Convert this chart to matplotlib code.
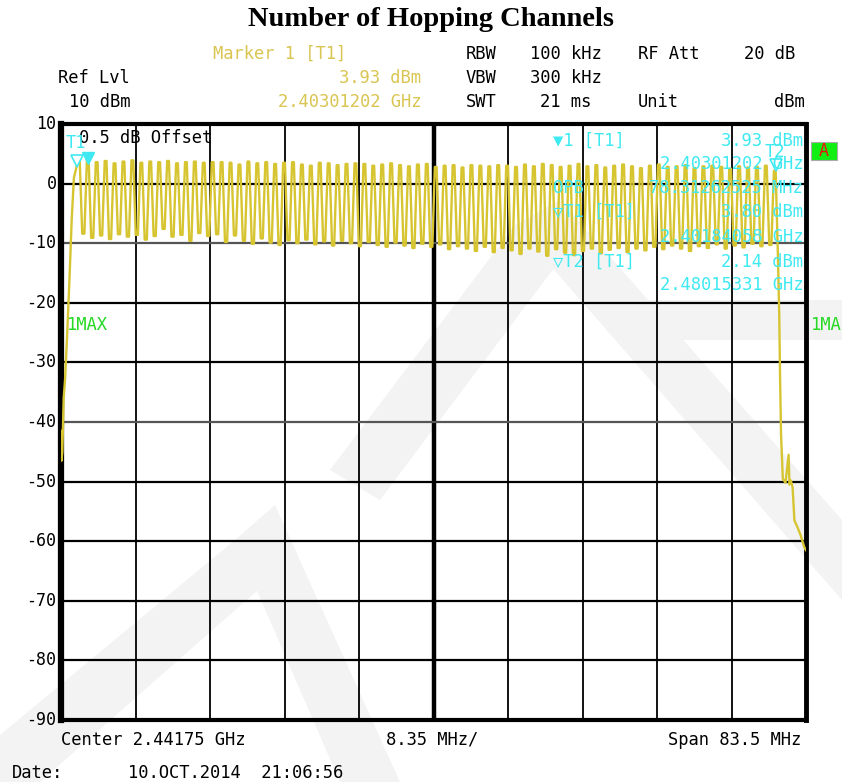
import numpy as np
import matplotlib
matplotlib.use('Agg')
import matplotlib.pyplot as plt
import matplotlib.transforms as mtransforms
from matplotlib.patches import Polygon, Rectangle

#####
# measurement data (frequency in MHz, level in dBm)
#####
chan_freq = list(range(2402, 2481))   # 79 hopping channels

peak_dbm = [3.80, 3.93, 3.6, 3.8, 3.4, 3.7, 3.9, 3.5, 3.7, 3.6, 3.8, 3.4, 3.6, 3.7, 3.5, 3.6,
            3.6, 3.5, 3.2, 3.7, 3.4, 3.6, 3.3, 3.5, 3.6, 3.2, 3.0, 3.5, 3.4, 3.1, 3.3, 3.4,
            3.3, 3.0, 3.2, 3.4, 3.1, 2.9, 3.2, 3.3, 2.8, 3.0, 3.1, 2.7, 3.1, 3.0, 2.9, 3.1,
            3.0, 2.8, 3.2, 2.9, 3.3, 3.1, 2.8, 3.0, 3.3, 2.9, 3.1, 2.7, 3.0, 3.2, 2.9, 2.6,
            3.0, 3.2, 2.8, 2.9, 3.1, 2.6, 2.9, 3.0, 2.8, 2.5, 2.9, 2.7, 2.8, 3.0, 2.14]

dip_dbm = [-8.4, -9.1, -8.7, -9.3, -8.5, -8.9, -8.6, -9.4, -8.8, -7.6, -8.9, -8.6, -9.6, -8.3, -8.8, -8.5,
           -9.8, -8.7, -9.6, -10.1, -9.2, -9.9, -10.3, -9.5, -10.0, -9.4, -10.2, -9.7, -10.4, -9.6, -10.0, -10.5,
           -9.8, -10.3, -10.6, -9.9, -10.4, -10.8, -10.1, -10.6, -10.2, -11.0, -10.5, -10.9, -11.3, -10.6, -11.5, -10.8,
           -11.2, -11.8, -10.9, -11.4, -12.1, -11.0, -11.6, -12.0, -11.3, -10.9, -11.7, -11.1, -10.8, -11.5, -10.9, -11.2,
           -10.6, -11.0, -10.4, -10.9, -11.3, -10.5, -10.8, -10.2, -10.9, -10.4, -10.7, -10.1, -10.5, -10.3]

# band edges outside the hopping range
lo_edge_freq = [2400.0, 2400.05, 2400.15, 2400.3, 2400.45, 2400.7, 2400.95, 2401.2, 2401.45]
lo_edge_dbm = [-41.5, -46.5, -45.0, -36.0, -33.0, -25.0, -16.0, -6.0, 1.0]
hi_edge_freq = [2480.35, 2480.5, 2480.6, 2480.7, 2480.9, 2481.2, 2481.4, 2481.55, 2481.65,
                2481.8, 2482.0, 2482.2, 2482.5, 2482.9, 2483.3, 2483.5]
hi_edge_dbm = [-12.0, -22.0, -33.0, -42.0, -49.5, -50.2, -47.5, -45.5, -50.5,
               -49.8, -51.0, -56.5, -57.5, -59.0, -61.0, -61.5]

# markers
t1 = (2401.84058, 3.80)
m1 = (2403.01202, 3.93)
t2 = (2480.15331, 2.14)

W, H = 842, 782
TRACE = '#d6c431'
CYAN = '#3fe9f2'
GOLD = '#d9c552'
MONO = 'DejaVu Sans Mono'


def px(x, y):
	return x / W, 1 - y / H


def build_trace():
	f = list(lo_edge_freq)
	v = list(lo_edge_dbm)
	for i, c in enumerate(chan_freq):
		if i > 0:
			f += [c - 0.62, c - 0.38]
			v += [dip_dbm[i - 1], dip_dbm[i - 1]]
		f += [c - 0.1, c + 0.1]
		v += [peak_dbm[i], peak_dbm[i]]
	f += hi_edge_freq
	v += hi_edge_dbm
	return f, v


fig = plt.figure(figsize=(W / 100, H / 100), dpi=100)

# faint watermark strokes in the background
wm = '#f3f3f3'
for pts in [[(0, 735), (235, 540), (275, 575), (40, 782), (0, 782)],
            [(235, 540), (275, 505), (400, 782), (340, 782)],
            [(330, 470), (515, 225), (560, 260), (380, 500)],
            [(515, 225), (560, 200), (842, 520), (842, 600)],
            [(640, 300), (842, 300), (842, 340), (680, 340)]]:
	fig.patches.append(Polygon([px(*p) for p in pts], closed=True, transform=fig.transFigure,
							   facecolor=wm, edgecolor='none', zorder=-5))

ax = fig.add_axes([61 / W, 62 / H, 745 / W, 596 / H])
ax.patch.set_alpha(0)
ax.set_xlim(2400, 2483.5)
ax.set_ylim(-90, 10)
ax.set_xticks([])
ax.set_yticks([])
for side, lw in [('left', 4.5), ('right', 3.5), ('top', 3), ('bottom', 3)]:
	ax.spines[side].set_linewidth(lw)

# graticule
for k in range(1, 10):
	fx = 2400 + k * 8.35
	ax.axvline(fx, color='black', lw=3.2 if k == 5 else 1.3, zorder=1)
for lvl in range(-80, 10, 10):
	ax.axhline(lvl, color='#555555' if lvl in (-10, -40) else 'black', lw=1.6, zorder=1)

fq, lv = build_trace()
ax.plot(fq, lv, color=TRACE, lw=1.7, zorder=3, clip_on=True)

# marker symbols
ax.plot(*t1, marker='v', ms=8, mfc='white', mec=CYAN, mew=1.2, zorder=4, linestyle='none')
ax.plot(m1[0], m1[1] + 0.3, marker='v', ms=8, color=CYAN, zorder=4, linestyle='none')
ax.plot(t2[0], t2[1] + 1.0, marker='v', ms=8, mfc='none', mec=CYAN, mew=1.2, zorder=4, linestyle='none')

# y-axis labels
ytr = mtransforms.blended_transform_factory(ax.transAxes, ax.transData)
for lvl in range(-90, 11, 10):
	ax.text(-0.006, lvl, str(lvl), transform=ytr, ha='right', va='center',
			family=MONO, fontsize=12, clip_on=False)

# title
fig.text(*px(431, 19), 'Number of Hopping Channels', ha='center', va='center',
		 family='Liberation Serif', fontweight='bold', fontsize=20.5)

# header block
fs = 12.3
hdr = [
	(213, 54, 'Marker 1 [T1]', 'left', GOLD),
	(466, 54, 'RBW', 'left', 'black'),
	(530, 54, '100 kHz', 'left', 'black'),
	(638, 54, 'RF Att', 'left', 'black'),
	(795, 54, '20 dB', 'right', 'black'),
	(58, 78, 'Ref Lvl', 'left', 'black'),
	(421, 78, '3.93 dBm', 'right', GOLD),
	(466, 78, 'VBW', 'left', 'black'),
	(530, 78, '300 kHz', 'left', 'black'),
	(69, 102, '10 dBm', 'left', 'black'),
	(421, 102, '2.40301202 GHz', 'right', GOLD),
	(466, 102, 'SWT', 'left', 'black'),
	(540, 102, '21 ms', 'left', 'black'),
	(638, 102, 'Unit', 'left', 'black'),
	(805, 102, 'dBm', 'right', 'black'),
	# footer
	(61, 740, 'Center 2.44175 GHz', 'left', 'black'),
	(386, 740, '8.35 MHz/', 'left', 'black'),
	(801, 740, 'Span 83.5 MHz', 'right', 'black'),
	(12, 773, 'Date:', 'left', 'black'),
	(128, 773, '10.OCT.2014  21:06:56', 'left', 'black'),
	# inside the diagram
	(79, 138, '0.5 dB Offset', 'left', 'black'),
	(66, 143, 'T1', 'left', CYAN),
	(553, 141, '\u25BC1 [T1]', 'left', CYAN),
	(803, 141, '3.93 dBm', 'right', CYAN),
	(765, 152, 'T2', 'left', CYAN),
	(803, 164, '2.40301202 GHz', 'right', CYAN),
	(553, 188, 'OPB', 'left', CYAN),
	(803, 188, '78.31262525 MHz', 'right', CYAN),
	(553, 212, '\u25BDT1 [T1]', 'left', CYAN),
	(803, 212, '3.80 dBm', 'right', CYAN),
	(803, 237, '2.40184058 GHz', 'right', CYAN),
	(553, 262, '\u25BDT2 [T1]', 'left', CYAN),
	(803, 262, '2.14 dBm', 'right', CYAN),
	(803, 285, '2.48015331 GHz', 'right', CYAN),
	(67, 325, '1MAX', 'left', '#25d925'),
	(811, 325, '1MA', 'left', '#25d925'),
]
for x, y, s, ha, col in hdr:
	fig.text(*px(x, y), s, ha=ha, va='center', family=MONO, fontsize=fs, color=col, zorder=6)

# trace indicator box
fig.patches.append(Rectangle(px(811, 160), 26 / W, 18 / H, transform=fig.transFigure,
							 facecolor='#11ee11', edgecolor='#aaaaaa', lw=0.8))
fig.text(*px(824, 151), 'A', ha='center', va='center', family=MONO, fontsize=12, color='#ee1111')

fig.savefig('out.png', dpi=100)
